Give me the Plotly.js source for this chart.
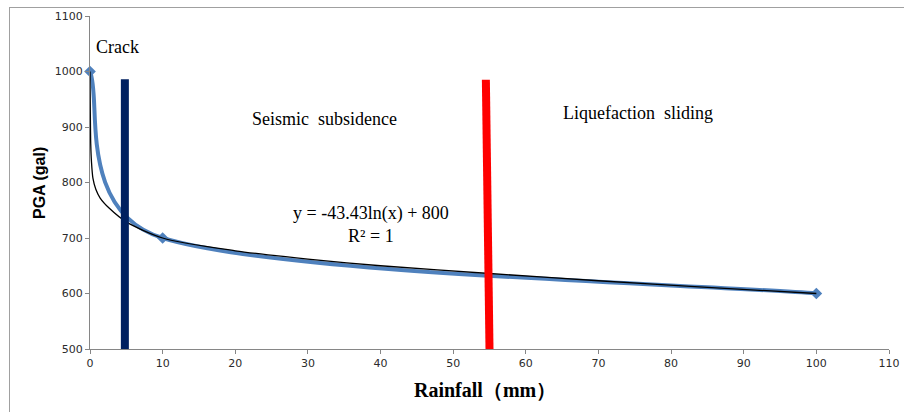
<!DOCTYPE html>
<html>
<head>
<meta charset="utf-8">
<script src="https://cdn.plot.ly/plotly-3.0.1.min.js"></script>
<style>
  html, body { margin: 0; padding: 0; background: #ffffff; }
  #wrap { position: relative; width: 904px; height: 412px; overflow: hidden; }
  #chart { position: absolute; left: 0; top: 0; width: 904px; height: 412px; }
  #frame { position: absolute; left: 9px; top: 7px; width: 900px; height: 410px;
           border-left: 1px solid #a0a0a0; border-top: 1px solid #a0a0a0; pointer-events: none; }
</style>
</head>
<body>
<div id="wrap">
  <div id="chart"></div>
  <div id="frame"></div>
</div>
<script>
// ---- data ----
const rainfall = [0, 10, 100];          // mm
const pga = [1000, 700, 600];           // gal
// black trendline as drawn in the picture
const trendRainfall = [0, 0.1, 0.2, 0.4, 0.8, 1.4, 2.7, 5, 10, 20, 30, 40, 55, 70, 85, 100];
const trendPga = [1000, 870, 838, 808, 788, 772, 753, 729, 700, 677, 662, 650, 636, 623, 611, 600];
const xTicks = [0, 10, 20, 30, 40, 50, 60, 70, 80, 90, 100, 110];
const yTicks = [500, 600, 700, 800, 900, 1000, 1100];
const crackLineX = [4.8, 4.8];
const crackLineY = [496, 986];
const liquefactionLineX = [54.5, 55];
const liquefactionLineY = [985, 499];
const zoneLabels = ['Crack', 'Seismic  subsidence', 'Liquefaction  sliding'];
const equationText = 'y = -43.43ln(x) + 800<br>R² = 1';

// ---- layout geometry ----
const W = 904, H = 412;
const margin = { l: 90, r: 15, t: 16, b: 63 };
const xRange = [0, 110], yRange = [500, 1100];
const plotW = W - margin.l - margin.r, plotH = H - margin.t - margin.b;
const sx = plotW / (xRange[1] - xRange[0]);
const sy = plotH / (yRange[1] - yRange[0]);

// Excel-style smoothed line (Bezier) computed in screen proportions, returned in data coords
function smoothPath(xs, ys) {
  const p = xs.map((x, i) => [x * sx, ys[i] * sy]);
  const n = p.length;
  const dist = (a, b) => Math.hypot(a[0] - b[0], a[1] - b[1]);
  const toData = q => (q[0] / sx).toFixed(4) + ',' + (q[1] / sy).toFixed(4);
  let d = 'M' + toData(p[0]);
  for (let i = 0; i < n - 1; i++) {
    const p0 = p[Math.max(i - 1, 0)], p1 = p[i], p2 = p[i + 1], p3 = p[Math.min(i + 2, n - 1)];
    const d02 = dist(p0, p2), d12 = dist(p1, p2), d13 = dist(p1, p3);
    const f1 = (d02 / 6 < d12 / 2) ? 1 / 6 : d12 / d02 / 2;
    const f2 = (d13 / 6 < d12 / 2) ? 1 / 6 : d12 / d13 / 2;
    const c1 = [p1[0] + (p2[0] - p0[0]) * f1, p1[1] + (p2[1] - p0[1]) * f1];
    const c2 = [p2[0] - (p3[0] - p1[0]) * f2, p2[1] - (p3[1] - p1[1]) * f2];
    d += ' C' + toData(c1) + ' ' + toData(c2) + ' ' + toData(p2);
  }
  return d;
}

const blue = '#4F81BD';
const serif = '"Liberation Serif", "Times New Roman", serif';
const tickFont = { family: '"DejaVu Sans", Verdana, sans-serif', size: 11, color: '#2b2b2b' };

const traces = [
  { x: rainfall, y: pga, type: 'scatter', mode: 'markers', cliponaxis: false,
    marker: { symbol: 'diamond', size: 9, color: blue }, hoverinfo: 'skip' },
  { x: trendRainfall, y: trendPga, type: 'scatter', mode: 'lines',
    line: { color: '#000000', width: 1.3, shape: 'spline', smoothing: 0.8 }, hoverinfo: 'skip' },
  { x: crackLineX, y: crackLineY, type: 'scatter', mode: 'lines', cliponaxis: false,
    line: { color: '#002060', width: 8 }, hoverinfo: 'skip' },
  { x: liquefactionLineX, y: liquefactionLineY, type: 'scatter', mode: 'lines', cliponaxis: false,
    line: { color: '#FF0000', width: 8 }, hoverinfo: 'skip' }
];

const axisCommon = {
  showgrid: false, zeroline: false, showline: true, linecolor: '#868686', linewidth: 1,
  ticks: 'outside', ticklen: 4, tickcolor: '#868686', tickwidth: 1,
  tickfont: tickFont, fixedrange: true
};

const txt = { family: serif, size: 18, color: '#000' };

const layout = {
  width: W, height: H,
  margin: margin,
  paper_bgcolor: 'rgba(0,0,0,0)', plot_bgcolor: 'rgba(0,0,0,0)',
  showlegend: false,
  xaxis: Object.assign({}, axisCommon, { range: xRange, tickvals: xTicks, ticktext: xTicks.map(String) }),
  yaxis: Object.assign({}, axisCommon, { range: yRange, tickvals: yTicks, ticktext: yTicks.map(String) }),
  shapes: [
    { type: 'path', xref: 'x', yref: 'y', layer: 'below', path: smoothPath(rainfall, pga),
      line: { color: blue, width: 4 } }
  ],
  annotations: [
    { xref: 'x', yref: 'y', x: 0.55, y: 1043.6, xanchor: 'left', yanchor: 'middle', showarrow: false,
      text: zoneLabels[0], font: txt },
    { xref: 'x', yref: 'y', x: 32.35, y: 913.9, xanchor: 'center', yanchor: 'middle', showarrow: false,
      text: zoneLabels[1], font: txt },
    { xref: 'x', yref: 'y', x: 75.4, y: 925, xanchor: 'center', yanchor: 'middle', showarrow: false,
      text: zoneLabels[2], font: txt },
    { xref: 'x', yref: 'y', x: 38.7, y: 723.6, xanchor: 'center', yanchor: 'middle', showarrow: false,
      align: 'center', text: equationText, font: txt },
    { xref: 'paper', yref: 'paper', x: (39 - margin.l) / plotW, y: (H - margin.b - 183) / plotH,
      xanchor: 'center', yanchor: 'middle', textangle: -90, showarrow: false,
      text: '<b>PGA (gal)</b>', font: { family: '"Liberation Sans", Arial, sans-serif', size: 16, color: '#000' } },
    { xref: 'paper', yref: 'paper', x: (484.5 - margin.l) / plotW, y: -(390 - (H - margin.b)) / plotH,
      xanchor: 'center', yanchor: 'middle', showarrow: false,
      text: '<b>Rainfall（mm）</b>', font: { family: serif, size: 20, color: '#000' } }
  ]
};

Plotly.newPlot('chart', traces, layout, { staticPlot: true, displayModeBar: false });
</script>
</body>
</html>
